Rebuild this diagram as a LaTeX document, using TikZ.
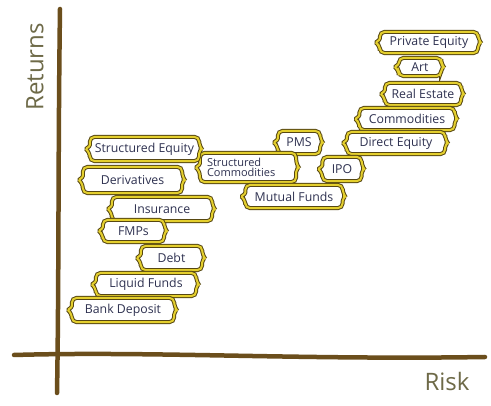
\documentclass[tikz,border=0pt]{standalone}
\usepackage{fontspec}
\setmainfont{Open Sans}
\usetikzlibrary{backgrounds}
\definecolor{axisbrown}{HTML}{6B4E1C}
\definecolor{tagbrown}{HTML}{574711}
\definecolor{tagyellow}{HTML}{E4CF2E}
\definecolor{tagtext}{HTML}{2E3150}
\definecolor{labelcol}{HTML}{6E6A48}
\tikzset{
  tagbox/.style={inner sep=0pt, align=center, text=tagtext, font=\fontsize{12.3}{13}\selectfont},
  tagline/.style={draw=tagbrown, double=tagyellow, line width=1pt, double distance=2pt, fill=white},
  axisline/.style={draw=axisbrown, line width=4.5pt, line cap=round},
  axislabel/.style={text=labelcol, font=\fontsize{24}{26}\selectfont}
}
\newcommand{\tagframe}[1]{%
  \path[tagline, rounded corners=5pt] (#1.north west) -- (#1.north east) -- ([yshift=3pt]#1.east)
    [rounded corners=1.5pt] -- ([xshift=2.5pt]#1.east) -- ([yshift=-3pt]#1.east)
    [rounded corners=5pt] -- (#1.south east) -- (#1.south west) -- ([yshift=-3pt]#1.west)
    [rounded corners=1pt] -- ([xshift=-4pt]#1.west) -- ([yshift=3pt]#1.west)
    [rounded corners=5pt] -- cycle;}
\begin{document}
\begin{tikzpicture}[x=1pt,y=-1pt]
\useasboundingbox (0,0) rectangle (491,406);
% axes
\coordinate (ytop) at (60,9);
\coordinate (ybot) at (57,393);
\coordinate (xl) at (14,355);
\coordinate (xr) at (485,357);
\draw[axisline] (ytop) .. controls (58,150) and (59,280) .. (ybot);
\draw[axisline] (xl) .. controls (150,351) and (300,360) .. (xr);
\node[axislabel, rotate=90] (ret) at (35,67) {Returns};
\node[axislabel] (risk) at (447,382) {Risk};
% tags
\node[tagbox, minimum width=98pt, minimum height=21pt] (pe) at (429,42.5) {Private Equity};
\node[tagbox, minimum width=42pt, minimum height=18pt] (art) at (420,67) {Art};
\node[tagbox, minimum width=76pt, minimum height=22pt] (re) at (423,94) {Real Estate};
\node[tagbox, minimum width=95pt, minimum height=22pt] (com) at (407,119) {Commodities};
\node[tagbox, minimum width=98pt, minimum height=22pt] (de) at (396,143) {Direct Equity};
\node[tagbox, minimum width=42pt, minimum height=23pt] (pms) at (299,142.5) {PMS};
\node[tagbox, minimum width=39pt, minimum height=24pt] (ipo) at (342,169) {IPO};
\node[tagbox, minimum width=96pt, minimum height=29pt, align=left, font=\fontsize{11}{10}\selectfont] (sc) at (248,167.5) {\makebox[82pt][l]{Structured}\\\makebox[82pt][l]{Commodities}};
\node[tagbox, minimum width=97pt, minimum height=23pt] (mf) at (294,196.5) {Mutual Funds};
\node[tagbox, minimum width=109pt, minimum height=24pt] (se) at (144.5,149) {Structured Equity};
\node[tagbox, minimum width=99pt, minimum height=26pt] (der) at (132.5,180) {Derivatives};
\node[tagbox, minimum width=100pt, minimum height=24pt] (ins) at (162,209) {Insurance};
\node[tagbox, minimum width=61pt, minimum height=22pt] (fmp) at (133.5,231) {FMPs};
\node[tagbox, minimum width=61pt, minimum height=24pt] (debt) at (171.5,258) {Debt};
\node[tagbox, minimum width=100pt, minimum height=23pt] (lf) at (146,284.5) {Liquid Funds};
\node[tagbox, minimum width=102pt, minimum height=24pt] (bd) at (123,310) {Bank Deposit};
\begin{pgfonlayer}{background}
\fill[white] (0,0) rectangle (491,406);
\tagframe{pe}\tagframe{art}\tagframe{re}\tagframe{com}\tagframe{de}
\tagframe{pms}\tagframe{ipo}\tagframe{sc}\tagframe{mf}
\tagframe{se}\tagframe{der}\tagframe{ins}\tagframe{fmp}\tagframe{debt}\tagframe{lf}\tagframe{bd}
\end{pgfonlayer}
\end{tikzpicture}
\end{document}
